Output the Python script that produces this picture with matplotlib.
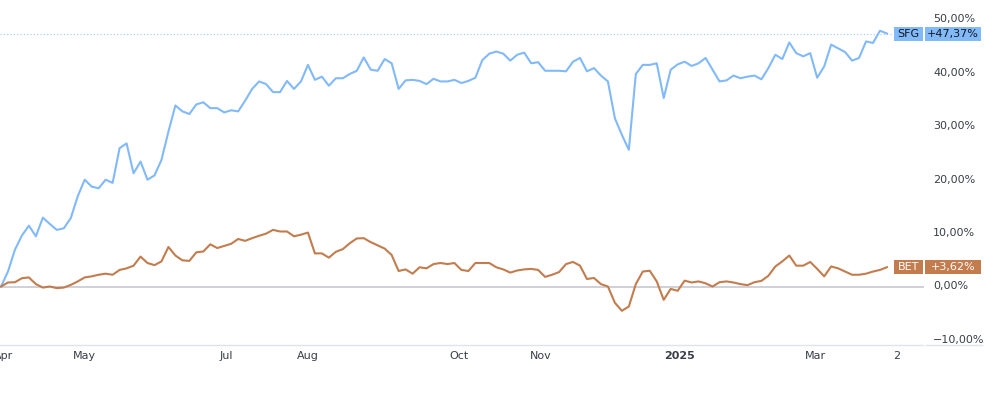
import matplotlib
matplotlib.use("Agg")
import matplotlib.pyplot as plt
import numpy as np
from matplotlib.patches import Rectangle
from matplotlib.lines import Line2D
from matplotlib.transforms import blended_transform_factory

# ---------------- data (percent change, sampled every 2 trading sessions) ----------------
sfg = [0.0, 2.8, 6.9, 9.55, 11.4, 9.4, 12.9, 11.7, 10.6, 10.9, 12.8, 16.9, 20.0, 18.7, 18.4, 20.0,
       19.4, 25.9, 26.8, 21.2, 23.4, 20.0,
       20.8, 23.7, 29.0, 33.9, 32.8, 32.3, 34.1, 34.5, 33.4, 33.4, 32.6, 33.0, 32.8, 34.8, 37.0,
       38.4, 37.9, 36.4, 36.4, 38.5, 37.0,
       38.4, 41.5, 38.7, 39.3, 37.6, 39.0, 39.0, 39.8, 40.4, 42.9, 40.6, 40.4, 42.6, 41.8, 37.0,
       38.6, 38.7, 38.5, 37.9, 38.9, 38.4, 38.4,
       38.7, 38.1, 38.5, 39.1, 42.4, 43.6, 44.0, 43.6, 42.3, 43.4, 43.8, 41.8, 42.0, 40.4, 40.4,
       40.4, 40.3, 42.1, 42.8, 40.3, 40.9,
       39.5, 38.4, 31.5, 28.4, 25.6, 39.8, 41.5, 41.5, 41.8, 35.3, 40.6, 41.6, 42.1, 41.3, 41.8,
       42.8, 40.6, 38.4, 38.6, 39.5, 39.0, 39.3,
       39.5, 38.8, 40.9, 43.4, 42.6, 45.7, 43.7, 43.1, 43.7, 39.1, 41.2, 45.3, 44.6, 43.9, 42.3,
       42.8, 45.9, 45.6, 47.9, 47.37]

bet = [0.0, 0.75, 0.8, 1.55, 1.7, 0.45, -0.2, 0.0, -0.3, -0.2, 0.3, 0.95, 1.7, 1.9, 2.2, 2.4,
       2.2, 3.1, 3.4, 3.9, 5.6, 4.4,
       4.0, 4.7, 7.4, 5.8, 4.9, 4.8, 6.4, 6.55, 7.9, 7.2, 7.6, 8.0, 8.9, 8.55, 9.05,
       9.5, 9.9, 10.6, 10.3, 10.3, 9.4,
       9.7, 10.1, 6.2, 6.2, 5.4, 6.5, 7.0, 8.1, 9.0, 9.05, 8.3, 7.7, 7.1, 5.9, 2.9,
       3.2, 2.4, 3.6, 3.4, 4.2, 4.4, 4.2,
       4.4, 3.1, 2.9, 4.4, 4.4, 4.4, 3.6, 3.2, 2.6, 3.0, 3.2, 3.3, 3.1, 1.8, 2.2,
       2.7, 4.2, 4.6, 3.9, 1.4, 1.6,
       0.45, 0.0, -3.05, -4.55, -3.75, 0.45, 2.8, 2.95, 0.95, -2.5, -0.45, -0.8, 1.1, 0.75, 0.95,
       0.6, 0.0, 0.8, 0.95, 0.75, 0.45, 0.25,
       0.8, 1.05, 2.0, 3.75, 4.7, 5.8, 3.9, 3.9, 4.6, 3.3, 1.9, 3.75, 3.4, 2.8, 2.2,
       2.2, 2.4, 2.8, 3.1, 3.62]

series_names = ["SFG", "BET"]
month_labels = ["Apr", "May", "Jul", "Aug", "Oct", "Nov", "2025", "Mar", "2"]
month_pos = [0.3, 12.0, 32.3, 44.0, 65.7, 77.4, 97.3, 116.8, 128.4]   # in sample index units
y_ticks = [50, 40, 30, 20, 10, 0, -10]

# ---------------- styling ----------------
W, H = 1008, 393
C_SFG = "#82b9f8"
C_BET = "#c27c4e"
TXT = "#3a3e48"

plt.rcParams['font.family'] = ['DejaVu Sans']
fig = plt.figure(figsize=(W / 100, H / 100), dpi=100)
fig.patch.set_facecolor("white")

plot_right_px = 924
plot_bottom_px = 345
ax = fig.add_axes([0, 1 - plot_bottom_px / H, plot_right_px / W, plot_bottom_px / H])
ax.set_facecolor("white")

x = np.arange(len(sfg))
ax.plot(x, sfg, color=C_SFG, lw=1.5, solid_joinstyle="round", zorder=3)
ax.plot(x, bet, color=C_BET, lw=1.5, solid_joinstyle="round", zorder=3)

px_per_unit = 6.976
ax.set_xlim(-1 / px_per_unit, (plot_right_px - 1) / px_per_unit)
px_per_pct = 5.34
ax.set_ylim((286.5 - plot_bottom_px) / px_per_pct, 286.5 / px_per_pct)

# zero line
ax.axhline(0, color="#c8cad2", lw=1.2, zorder=1)
# dotted last-value line for SFG
ax.plot([ax.get_xlim()[0], 892 / px_per_unit], [sfg[-1], sfg[-1]], color=C_SFG,
        lw=0.8, ls=(0, (1, 2)), alpha=0.8, zorder=2)

for s in ax.spines.values():
    s.set_visible(False)
ax.set_yticks([])
ax.set_xticks(month_pos)
ax.set_xticklabels(month_labels, fontsize=8, color=TXT)
for lbl in ax.get_xticklabels():
    if lbl.get_text() == "2025":
        lbl.set_fontweight("bold")
ax.tick_params(axis="x", length=0, pad=4)

# y labels on the right
trans = blended_transform_factory(ax.transAxes, ax.transData)
for v in y_ticks:
    s = f"{v:.2f}".replace(".", ",") + "%"
    if v < 0:
        s = "\u2212" + s[1:]
    ax.text(933 / plot_right_px, v, s, transform=trans, ha="left", va="center",
            fontsize=8, color=TXT, clip_on=False)

# bottom border line across plot and price scale
fig.add_artist(Line2D([0, 923 / W], [1 - plot_bottom_px / H] * 2, color="#e0e3eb", lw=1))
fig.add_artist(Line2D([926 / W, 982 / W], [1 - plot_bottom_px / H] * 2, color="#e0e3eb", lw=1))

# last value tags
def tag(name, val, fc, tc):
    h = 14 / px_per_pct
    ax.add_patch(Rectangle((894 / plot_right_px, val - h / 2), 29 / plot_right_px, h,
                           transform=trans, fc=fc, ec="none", clip_on=False, zorder=5))
    ax.add_patch(Rectangle((925 / plot_right_px, val - h / 2), 56 / plot_right_px, h,
                           transform=trans, fc=fc, ec="none", clip_on=False, zorder=5))
    ax.text(908.5 / plot_right_px, val, name, transform=trans, ha="center", va="center",
            fontsize=8, color=tc, clip_on=False, zorder=6)
    vs = ("+" if val >= 0 else "\u2212") + f"{abs(val):.2f}".replace(".", ",") + "%"
    ax.text(953 / plot_right_px, val, vs, transform=trans, ha="center", va="center",
            fontsize=8, color=tc, clip_on=False, zorder=6)

tag(series_names[0], sfg[-1], C_SFG, "#131722")
tag(series_names[1], bet[-1], C_BET, "white")

fig.savefig("out.png", dpi=100, facecolor="white")
